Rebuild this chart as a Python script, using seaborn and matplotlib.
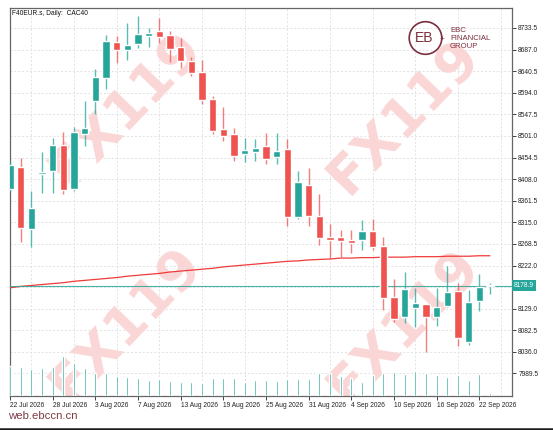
import matplotlib
matplotlib.use("Agg")
import matplotlib.pyplot as plt
import matplotlib.transforms as mtransforms
from matplotlib.patches import Ellipse
from matplotlib.lines import Line2D
import seaborn as sns
import numpy as np
import pandas as pd

# daily bars, 22 Jul 2026 .. 23 Sep 2026
opens = [8387, 8434, 8301, 8418, 8426, 8482, 8386, 8505, 8576, 8625,
         8703, 8686, 8698, 8716, 8726, 8718, 8693, 8663, 8639, 8581,
         8516, 8505, 8462, 8467, 8480, 8456, 8473, 8327, 8396, 8329,
         8284, 8283, 8277, 8277, 8297, 8263, 8154, 8111, 8130, 8139,
         8111, 8135, 8167, 8058, 8146, 8178]
highs = [8448, 8453, 8383, 8466, 8496, 8510, 8521, 8577, 8645, 8718,
         8716, 8745, 8759, 8733, 8754, 8727, 8711, 8672, 8665, 8586,
         8564, 8518, 8497, 8495, 8507, 8507, 8495, 8426, 8432, 8376,
         8312, 8299, 8299, 8320, 8323, 8283, 8193, 8209, 8173, 8140,
         8173, 8220, 8184, 8170, 8204, 8185]
lows = [8380, 8272, 8261, 8378, 8378, 8376, 8383, 8480, 8548, 8602,
        8659, 8665, 8690, 8693, 8701, 8660, 8647, 8630, 8569, 8505,
        8491, 8446, 8444, 8446, 8440, 8440, 8308, 8322, 8308, 8266,
        8238, 8241, 8250, 8256, 8256, 8126, 8101, 8099, 8089, 8035,
        8092, 8132, 8049, 8051, 8123, 8161]
closes = [8439, 8303, 8346, 8424, 8482, 8385, 8509, 8518, 8627, 8705,
          8686, 8697, 8721, 8723, 8713, 8688, 8663, 8636, 8579, 8512,
          8500, 8458, 8471, 8476, 8452, 8469, 8326, 8401, 8329, 8281,
          8277, 8274, 8271, 8297, 8261, 8153, 8106, 8171, 8141, 8111,
          8132, 8166, 8066, 8144, 8175, 8178.9]
volumes = [30000, 29300, 27000, 27700, 28700, 40000, 33300, 27700, 22700, 22700,
           20000, 19300, 17700, 16000, 17000, 15300, 14000, 14000, 12700, 18000,
           18000, 18000, 14000, 16000, 16000, 15300, 17300, 17000, 17000, 22700,
           22700, 20000, 17700, 14300, 21300, 22700, 24000, 22000, 24700, 23300,
           21300, 18700, 21300, 16000, 22000, 3300]
ma_values = [8174, 8177, 8179, 8181, 8183, 8185, 8188, 8190, 8192, 8194,
             8196, 8199, 8201, 8203, 8205, 8208, 8210, 8212, 8214, 8216,
             8219, 8221, 8223, 8225, 8227, 8229, 8231, 8232, 8234, 8235,
             8236, 8238, 8238, 8239, 8239, 8240, 8240, 8240, 8241, 8241,
             8241, 8242, 8242, 8242, 8243, 8243]
last_price = 8178.9

date_labels = ["22 Jul 2026", "28 Jul 2026", "3 Aug 2026", "7 Aug 2026",
               "13 Aug 2026", "19 Aug 2026", "25 Aug 2026", "31 Aug 2026",
               "4 Sep 2026", "10 Sep 2026", "16 Sep 2026", "22 Sep 2026"]
price_ticks = [7989.5, 8036.0, 8082.5, 8129.0, 8175.5, 8222.0, 8268.5, 8315.0,
               8361.5, 8408.0, 8454.5, 8501.0, 8547.5, 8594.0, 8640.5, 8687.0, 8733.5]

UP = "#26a69a"
DOWN = "#ef5350"
BRAND = "#7b2f3e"

df = pd.DataFrame({"open": opens, "high": highs, "low": lows,
                   "close": closes, "volume": volumes, "ma": ma_values})
df["bar"] = np.arange(len(df))
df["up"] = df["close"] >= df["open"]
df["color"] = np.where(df["up"], UP, DOWN)

sns.set_style("white")
plt.rcParams["font.family"] = ["Liberation Sans", "DejaVu Sans"]

fig = plt.figure(figsize=(5.53, 4.30), dpi=100)
ax = fig.add_axes([10 / 553, 1 - 396 / 430, 502 / 553, 388 / 430])
vax = ax.twinx()

# watermarks
for wx, wy in [(0.23, 0.74), (0.785, 0.72), (0.23, 0.185), (0.785, 0.18)]:
    ax.text(wx, wy, "FX119", transform=ax.transAxes, rotation=46,
            fontsize=39, fontweight="bold", family="DejaVu Sans",
            color="#fad6d6", ha="center", va="center", zorder=1, clip_on=True)

# volumes
sns.barplot(x=df["bar"], y=df["volume"], native_scale=True, width=0.2,
            color=UP, saturation=1, ax=vax, zorder=2)
vax.set_ylim(0, df["volume"].max() * 9.7)
vax.axis("off")

# moving average and last price line
sns.lineplot(x=df["bar"], y=df["ma"], color="#f03a3a", lw=0.9, ax=ax, zorder=3)
ax.axhline(last_price, color=UP, lw=0.8, alpha=0.85, zorder=3)

# candles
ax.vlines(df["bar"], df["low"], df["high"], colors=df["color"], lw=1.0, alpha=0.75, zorder=4)
body = (df["close"] - df["open"]).abs().clip(lower=2.5)
ax.bar(df["bar"], body, bottom=df[["open", "close"]].min(axis=1), width=0.68,
       color=df["color"], zorder=5)

ax.set_xlim(0.07, 47.07)
ax.set_ylim(7941, 8776.5)
ax.set_xlabel("")
ax.set_ylabel("")

# axes styling
ax.yaxis.tick_right()
ax.set_yticks(price_ticks)
ax.set_yticklabels(["" if t == 8175.5 else f"{t:.1f}" for t in price_ticks])
ax.set_xticks(np.arange(0, 45, 4))
ax.set_xticklabels(date_labels, ha="left")
ax.set_xticks(np.arange(0, 47, 2), minor=True)
ax.tick_params(axis="y", right=True, left=False, length=3, width=0.6,
               colors="#222222", labelsize=4.8, pad=1.5)
ax.tick_params(axis="x", which="major", bottom=True, length=3, width=0.6,
               colors="#222222", labelsize=4.8, pad=1)
ax.tick_params(axis="x", which="minor", length=0)
ax.grid(True, axis="y", which="major", color="#e2e2e2", ls=(0, (2, 2)), lw=0.7)
ax.grid(True, axis="x", which="minor", color="#e2e2e2", ls=(0, (2, 2)), lw=0.7)
ax.set_axisbelow(True)
for side in ["left", "right", "top", "bottom"]:
    ax.spines[side].set_visible(True)
    ax.spines[side].set_color("#666666")
    ax.spines[side].set_linewidth(0.9)

ax.text(0.004, 0.986, "F40EUR.s, Daily:  CAC40", transform=ax.transAxes,
        fontsize=4.8, color="#111111", ha="left", va="center")

# last price tag
trans = mtransforms.blended_transform_factory(ax.transAxes, ax.transData)
ax.text(1.004, last_price, f"{last_price:.1f}", transform=trans, fontsize=4.8,
        color="white", ha="left", va="center", zorder=10, clip_on=False,
        bbox=dict(boxstyle="square,pad=0.25", fc=UP, ec="none"))

# logo
fig.patches.append(Ellipse((425.5 / 553, 1 - 38 / 430), 32.6 / 553, 32.6 / 430,
                           transform=fig.transFigure, fill=False, ec=BRAND, lw=1.2))
fig.text(424 / 553, 1 - 38 / 430, "EB", fontsize=10, color=BRAND, ha="center", va="center")
fig.text(442 / 553, 1 - 39 / 430, "+", fontsize=6, color=BRAND, ha="center", va="center")
for i, line in enumerate(["EBC", "FINANCIAL", "GROUP"]):
    fig.text(450 / 553, 1 - (30 + 8.3 * i) / 430, line, fontsize=5.6, color=BRAND,
             ha="left", va="center")

fig.text(8 / 553, 1 - 416 / 430, "web.ebccn.cn", fontsize=8.2, color="#7d3c47",
         ha="left", va="center")
fig.lines.append(Line2D([0, 1], [1.5 / 430, 1.5 / 430], transform=fig.transFigure,
                        color="#1a1a1a", lw=1.8))

fig.savefig("out.png", dpi=100)
